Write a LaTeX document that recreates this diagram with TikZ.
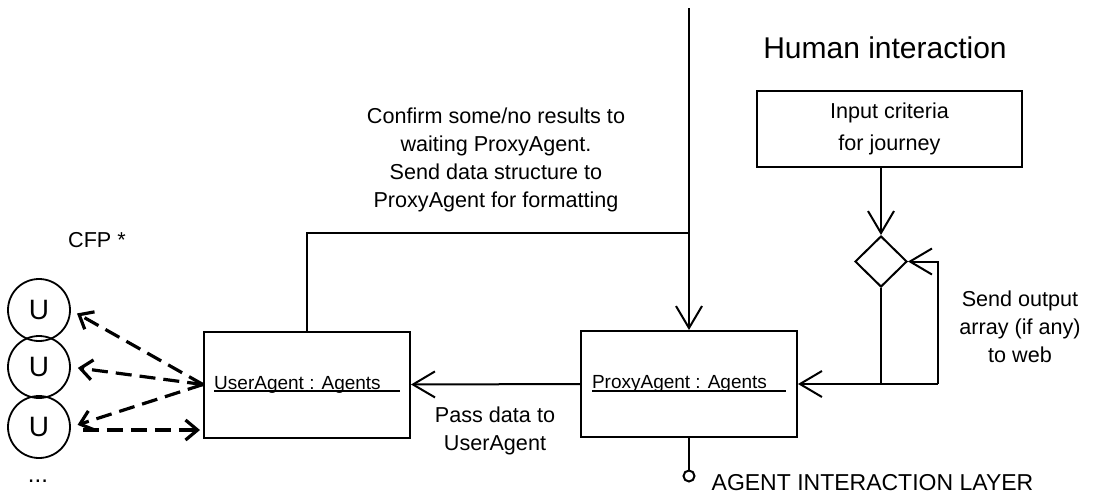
\documentclass[tikz,border=0pt]{standalone}
\usepackage{fontspec}
\setmainfont{Liberation Sans}
\usetikzlibrary{arrows.meta,shapes.geometric}
\newcommand{\agentlbl}[1]{\setbox0\hbox{#1\hspace{1em}}\rlap{\rule[-1.6pt]{\wd0}{0.9pt}}\box0}

\begin{document}
\begin{tikzpicture}[x=0.5pt,y=-0.5pt,line width=1pt,
 >={Straight Barb[length=11pt,width=13pt]},
 every node/.style={font=\fontsize{10.8}{14}\selectfont},
 agent/.style={draw,minimum width=#1,minimum height=53pt,inner sep=0pt,font=\fontsize{9.5}{11}\selectfont},
 cfp/.style={line width=1.6pt,dash pattern=on 8pt off 4pt,-{Straight Barb[length=6pt,width=10pt]}},
 usr/.style={draw,circle,minimum size=31pt,inner sep=0pt,line width=0.9pt,font=\fontsize{14}{16}\selectfont}]
 \useasboundingbox (0,0) rectangle (1093,494);
 % agents
 \node[agent=103pt] (user) at (307,384.5) {\agentlbl{UserAgent : Agents}};
 \node[agent=108pt] (proxy) at (689,384) {\agentlbl{ProxyAgent : Agents}};
 \node[draw,minimum width=132.5pt,minimum height=38pt,inner sep=0pt,align=center,font=\fontsize{10.8}{16}\selectfont] (input) at (889.5,129) {Input criteria\\for journey};
 \node[draw,diamond,minimum width=26pt,minimum height=25.5pt,inner sep=0pt] (dia) at (881,261.5) {};
 \node[draw,circle,minimum size=5.5pt,inner sep=0pt] (lol) at (689,476) {};
 \foreach \n/\y in {1/310,2/367,3/427} \node[usr] (u\n) at (39,\y) {U};
 \coordinate (top) at (689,8);
 \coordinate (split) at (689,233);
 \coordinate (loop) at (938,384);
 % labels
 \node[align=center] (confirm) at (496,160) {Confirm some/no results to\\waiting ProxyAgent.\\Send data structure to\\ProxyAgent for formatting};
 \node[align=center] (pass) at (495,431) {Pass data to\\UserAgent};
 \node[align=center] (send) at (1020,327) {Send output\\array (if any)\\to web};
 \node[font=\fontsize{15}{18}\selectfont] (human) at (885,48) {Human interaction};
 \node (cfplbl) at (97,240) {CFP *};
 \node[font=\fontsize{12}{14}\selectfont] (dots) at (38,481) {...};
 \node[anchor=west,font=\fontsize{11.5}{13}\selectfont] (layer) at (704,483) {AGENT INTERACTION LAYER};
 % connectors
 \draw[->] (top) -- (proxy.north);
 \draw (split) -| (user.north);
 \draw[->] (proxy.west) -- (user.east);
 \draw[->] (input.south -| dia.north) -- (dia.north);
 \draw[->] (dia.south) |- (proxy.east);
 \draw (dia.south |- loop) -- (loop);
 \draw[->] (loop) |- (dia.east);
 \draw (proxy.south) -- (lol.north);
 \foreach \n in {1,2,3} \draw[cfp,shorten >=3.5pt] (user.west) -- (u\n.east);
 \draw[cfp,shorten <=6pt,shorten >=1.5pt] ([yshift=-1.5pt]u3.east) -- ([yshift=-1.5pt]u3.east -| user.west);
\end{tikzpicture}
\end{document}
